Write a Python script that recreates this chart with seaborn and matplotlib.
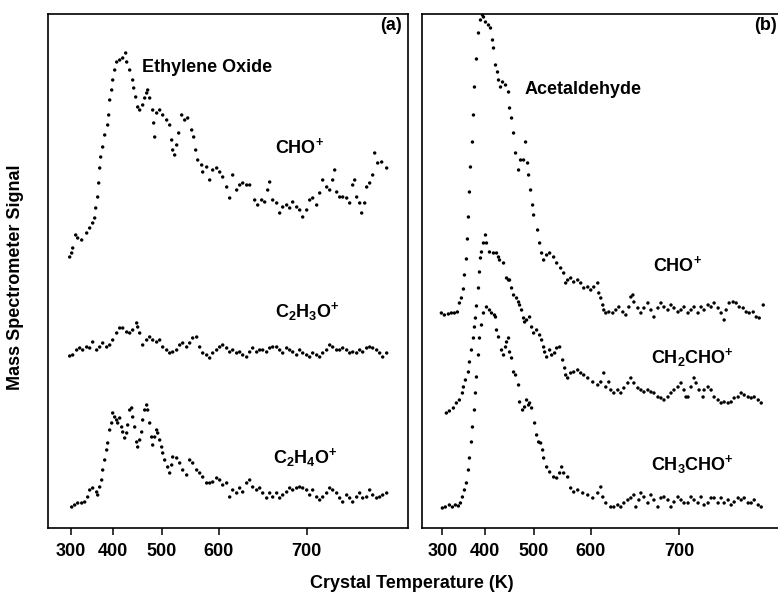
import numpy as np
import matplotlib
matplotlib.use("Agg")
import matplotlib.pyplot as plt
import seaborn as sns

# ---------------- data ----------------
# temperature ramp calibration: scan time (arb. units) at which each tick temperature is reached
ramp_T = [300, 400, 500, 600, 700]
ramp_t = [0, 42.3, 91, 148, 236]
tick_labels = ["300", "400", "500", "600", "700"]

# (a) Ethylene oxide
ta_cho = [-1,1,2,5,7,11,16,19,22,24,25,27,28,29,30,32,34,37,38,39,41,42,44,46,49,52,55,56,59,62,
          63,65,67,69,72,74,76,77,79,82,83,84,86,89,92,96,99,101,102,104,106,108,111,114,117,121,123,125,127,131,
          132,136,139,142,146,149,152,156,159,162,166,169,172,176,179,184,187,191,194,197,199,202,206,209,212,216,219,222,226,229,
          232,236,239,242,246,249,252,256,259,262,264,266,269,272,276,279,282,284,286,289,291,294,296,299,302,304,307,311,316]
sa_cho = [271,275,280,293,290,288,295,300,305,310,320,331,345,360,371,381,393,403,413,428,438,448,458,466,468,470,475,466,458,448,
          440,431,421,418,423,430,435,438,430,418,405,391,415,418,413,408,403,388,378,373,383,395,413,408,410,398,391,378,368,363,
          356,361,348,358,360,356,351,341,330,353,338,343,345,343,343,328,323,328,326,338,346,328,325,315,321,323,320,326,321,318,
          311,318,328,330,323,335,348,341,338,348,358,336,331,331,330,325,343,348,331,325,315,325,341,345,353,375,365,366,360]

ta_c2h3o = [-1,2,6,9,12,16,19,22,26,29,32,36,39,42,46,49,52,56,59,62,66,67,69,72,76,79,82,86,89,92,
            96,99,102,106,109,112,116,119,122,126,129,132,136,139,142,146,149,152,156,159,162,166,169,172,176,179,182,186,189,192,
            196,199,202,206,209,212,216,219,222,226,229,232,236,239,242,246,249,252,256,259,262,266,269,272,276,279,282,286,289,292,
            296,299,302,306,309,312,316]
sa_c2h3o = [172,173,178,180,178,181,180,186,178,181,185,181,183,188,195,200,200,196,195,198,205,201,195,183,188,191,188,186,188,181,
            178,175,176,178,183,185,181,185,190,191,181,175,173,170,175,178,181,183,180,176,178,175,176,173,171,176,180,176,178,178,
            176,180,181,181,178,175,180,178,176,173,178,175,173,171,175,173,171,175,178,183,181,178,178,180,178,175,176,175,178,176,
            180,181,180,178,175,171,175]

ta_c2h4o = [1,4,7,11,14,17,19,22,26,27,29,31,32,34,36,37,39,41,42,44,46,47,49,51,52,54,56,57,59,61,
            62,64,66,67,69,71,72,74,76,77,79,81,82,84,86,87,89,91,92,94,97,99,101,102,106,109,112,116,119,122,
            126,129,132,136,139,142,146,149,152,156,159,162,166,169,172,176,179,182,186,189,192,196,199,202,206,209,212,216,219,222,
            226,229,232,236,239,242,246,249,252,256,259,262,266,269,272,276,279,282,286,289,292,296,299,302,306,309,312,316]
sa_c2h4o = [21,23,25,25,26,31,38,40,36,33,41,48,58,68,78,85,98,105,115,111,108,105,110,101,96,90,95,103,118,120,
            111,101,86,81,88,96,108,118,123,118,105,91,83,91,98,95,88,81,75,68,61,55,63,71,70,65,58,53,68,65,
            58,55,51,45,45,46,50,48,43,45,31,38,35,40,36,45,48,41,38,40,35,30,35,31,35,30,33,36,40,38,
            40,41,40,38,33,38,31,28,31,35,40,38,35,30,26,33,30,26,31,35,30,31,38,33,30,31,33,35]

# (b) Acetaldehyde
tb_cho = [-1,2,6,9,12,15,17,19,21,22,24,25,26,27,28,30,31,32,34,36,38,40,41,43,46,48,50,51,53,55,
          56,58,60,63,66,67,69,71,73,76,78,81,83,85,86,88,90,91,95,97,99,101,104,107,111,114,118,121,123,125,
          128,131,135,138,141,145,148,151,155,156,158,160,161,163,166,170,173,176,180,183,186,188,190,191,195,198,201,205,208,211,
          215,218,221,225,228,231,235,238,241,245,248,251,255,258,261,265,268,271,275,278,281,283,286,290,293,296,300,303,306,310,
          313,316,320]
sb_cho = [215,213,214,215,215,216,225,230,239,253,269,289,311,336,361,386,413,441,469,495,508,513,511,506,503,500,488,480,463,456,
          448,441,446,443,436,420,410,395,375,358,368,368,386,365,353,338,323,313,298,285,275,268,273,275,271,265,260,255,245,248,
          250,246,248,245,240,241,238,241,245,235,230,223,218,215,216,215,218,221,216,213,221,231,233,226,220,215,220,225,218,211,
          220,225,221,218,223,220,216,218,221,215,218,221,215,221,218,223,221,225,220,215,208,218,225,226,225,221,220,216,215,216,
          211,210,223]

tb_ch2cho = [4,7,11,14,17,20,21,23,26,27,29,31,32,33,34,36,37,38,39,41,43,44,47,51,54,56,57,61,64,66,
             67,69,71,74,76,77,79,81,82,84,87,89,91,94,97,99,101,102,104,107,109,112,114,117,120,122,123,125,128,131,
             135,138,141,145,150,155,158,161,163,166,168,171,175,178,181,185,188,191,195,198,201,205,208,211,215,218,221,225,228,231,
             235,238,241,243,245,248,251,253,256,260,261,265,268,271,275,278,281,285,288,291,295,298,301,305,308,311,315,318]
sb_ch2cho = [115,117,120,125,128,135,141,148,156,166,178,190,201,210,222,240,256,270,276,285,293,285,276,275,275,271,268,265,250,248,
             248,240,233,230,226,223,218,210,206,208,211,201,195,198,193,188,181,176,171,178,173,175,180,181,168,160,153,150,155,156,
             158,155,153,150,146,143,146,155,141,146,138,135,138,135,140,145,150,145,140,138,136,138,136,135,131,130,128,131,135,138,
             141,145,138,131,131,141,150,145,138,131,138,141,138,131,128,125,126,125,126,130,131,135,133,131,130,131,128,125]

tb_ch3cho = [0,3,7,10,13,16,18,20,22,24,26,27,29,30,32,33,34,36,37,39,41,44,47,49,52,53,54,56,59,61,
             63,64,66,67,69,71,73,76,77,80,82,84,86,87,89,92,94,96,98,100,101,104,107,111,114,117,119,121,125,128,
             131,135,140,145,150,155,158,160,163,168,171,175,178,181,185,188,191,193,196,198,201,205,208,211,215,218,221,225,228,231,
             235,238,241,245,248,251,255,258,261,265,268,271,275,278,281,285,288,291,295,298,301,305,308,311,315,318]
sb_ch3cho = [20,21,23,21,23,22,25,31,38,45,58,70,86,101,118,135,151,173,190,203,215,221,218,215,213,211,198,191,178,173,
             181,186,190,176,170,156,153,143,126,118,121,128,123,125,120,105,93,86,85,78,70,61,56,51,50,55,61,55,51,40,
             36,38,35,33,30,35,41,31,25,21,21,23,21,25,28,30,33,21,28,35,31,25,33,28,21,30,31,28,21,26,
             31,28,25,25,31,28,25,31,23,25,30,30,25,30,25,28,23,26,30,28,30,25,25,28,23,21]

panel_a = [("CHO", ta_cho, sa_cho), ("C2H3O", ta_c2h3o, sa_c2h3o), ("C2H4O", ta_c2h4o, sa_c2h4o)]
panel_b = [("CHO", tb_cho, sb_cho), ("CH2CHO", tb_ch2cho, sb_ch2cho), ("CH3CHO", tb_ch3cho, sb_ch3cho)]

# ---------------- temperature <-> scan-time mapping ----------------
RT = np.array(ramp_T, float)
Rt = np.array(ramp_t, float)
slope_lo = (Rt[1] - Rt[0]) / (RT[1] - RT[0])
slope_hi = (Rt[-1] - Rt[-2]) / (RT[-1] - RT[-2])


def T_to_t(T):
    T = np.asarray(T, float)
    out = np.interp(T, RT, Rt)
    out = np.where(T < RT[0], Rt[0] + (T - RT[0]) * slope_lo, out)
    out = np.where(T > RT[-1], Rt[-1] + (T - RT[-1]) * slope_hi, out)
    return out


def t_to_T(t):
    t = np.asarray(t, float)
    out = np.interp(t, Rt, RT)
    out = np.where(t < Rt[0], RT[0] + (t - Rt[0]) / slope_lo, out)
    out = np.where(t > Rt[-1], RT[-1] + (t - Rt[-1]) / slope_hi, out)
    return out


# ---------------- figure ----------------
sns.set_style("ticks")
plt.rcParams["font.family"] = ["Liberation Sans", "DejaVu Sans"]
plt.rcParams["mathtext.fontset"] = "custom"
plt.rcParams["mathtext.rm"] = "Liberation Sans:bold"
plt.rcParams["mathtext.it"] = "Liberation Sans:bold"
plt.rcParams["mathtext.bf"] = "Liberation Sans:bold"
plt.rcParams["text.color"] = "black"
plt.rcParams["axes.labelcolor"] = "black"
plt.rcParams["xtick.color"] = "black"
plt.rcParams["axes.edgecolor"] = "black"

fig = plt.figure(figsize=(7.78, 5.95), dpi=100)
W, H = 778.0, 595.0
axa = fig.add_axes([48 / W, 67 / H, 359.7 / W, 514 / H])
axb = fig.add_axes([422.3 / W, 67 / H, 357 / W, 514 / H])

limits = {id(axa): (-22.7, 337.0), id(axb): (-20.0, 336.0)}

for ax, panel in ((axa, panel_a), (axb, panel_b)):
    ax.set_xscale("function", functions=(T_to_t, t_to_T))
    for name, t, s in panel:
        df_T = t_to_T(t)
        sns.scatterplot(x=df_T, y=np.asarray(s, float), ax=ax, color="black",
                        s=6, linewidth=0, edgecolor="none", legend=False)
    lo, hi = limits[id(ax)]
    ax.set_xlim(float(t_to_T(lo)), float(t_to_T(hi)))
    ax.set_ylim(0, 514)
    ax.set_yticks([])
    ax.set_xticks(ramp_T)
    ax.set_xticklabels(tick_labels, fontsize=13, fontweight="bold", color="black")
    ax.minorticks_off()
    ax.tick_params(axis="x", direction="out", length=5, width=1.1, pad=6, colors="black")
    for sp in ax.spines.values():
        sp.set_linewidth(1.2)
        sp.set_color("black")
    ax.set_facecolor("white")

axb.spines["right"].set_visible(False)

tkw = dict(fontsize=13, fontweight="bold", va="center", color="black")
axa.text(0.985, 0.978, "(a)", transform=axa.transAxes, ha="right", **tkw)
axa.text(0.262, 0.895, "Ethylene Oxide", transform=axa.transAxes, ha="left", **tkw)
axa.text(0.631, 0.741, r"$\mathregular{CHO^{+}}$", transform=axa.transAxes, ha="left", **tkw)
axa.text(0.631, 0.422, r"$\mathregular{C_{2}H_{3}O^{+}}$", transform=axa.transAxes, ha="left", **tkw)
axa.text(0.626, 0.138, r"$\mathregular{C_{2}H_{4}O^{+}}$", transform=axa.transAxes, ha="left", **tkw)

axb.text(0.992, 0.978, "(b)", transform=axb.transAxes, ha="right", **tkw)
axb.text(0.286, 0.854, "Acetaldehyde", transform=axb.transAxes, ha="left", **tkw)
axb.text(0.646, 0.512, r"$\mathregular{CHO^{+}}$", transform=axb.transAxes, ha="left", **tkw)
axb.text(0.640, 0.331, r"$\mathregular{CH_{2}CHO^{+}}$", transform=axb.transAxes, ha="left", **tkw)
axb.text(0.640, 0.123, r"$\mathregular{CH_{3}CHO^{+}}$", transform=axb.transAxes, ha="left", **tkw)

fig.text(16 / W, 1 - 277 / H, "Mass Spectrometer Signal", rotation=90,
         ha="center", va="center", fontsize=13, fontweight="bold", color="black")
fig.text(412 / W, 1 - 583 / H, "Crystal Temperature (K)",
         ha="center", va="center", fontsize=13, fontweight="bold", color="black")

fig.savefig("out.png", dpi=100, facecolor="white")
